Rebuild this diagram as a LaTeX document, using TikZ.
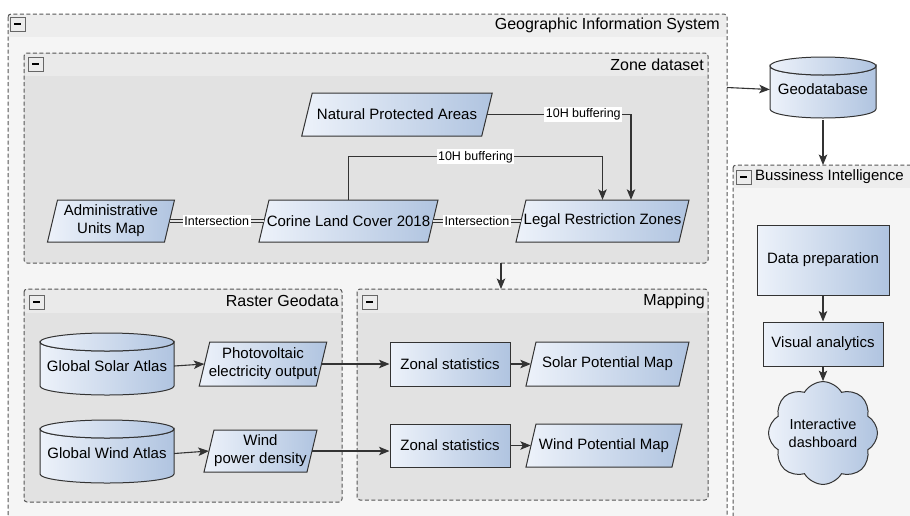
\documentclass[tikz,border=0pt]{standalone}
\usepackage{fontspec}
\setmainfont{Liberation Sans}
\usetikzlibrary{arrows.meta,shapes.symbols,calc}

\definecolor{gisHead}{HTML}{EDEDED}
\definecolor{gisBody}{HTML}{F5F5F5}
\definecolor{zHead}{HTML}{EAEAEA}
\definecolor{zBody}{HTML}{E2E2E2}
\definecolor{nodeL}{HTML}{EDF2FA}
\definecolor{nodeR}{HTML}{B0C4E0}
\definecolor{lineC}{HTML}{333333}
\definecolor{boxLine}{HTML}{555555}

\tikzset{
  nodefill/.style={left color=nodeL, right color=nodeR, draw=lineC, line width=1pt},
  lbl/.style={fill=white, inner sep=1.5pt, font=\fontsize{12.5}{14}\selectfont},
  arr/.style={draw=lineC, line width=1.1pt, -{Stealth[length=10.5pt,width=8.5pt,inset=2.5pt]}},
  dbl/.style={draw=lineC, double=zBody, double distance=2.2pt, line width=0.8pt},
  cont/.style={draw=boxLine, dash pattern=on 4pt off 2.5pt, line width=1pt, rounded corners=3pt},
  ttl/.style={font=\fontsize{16}{18}\selectfont, inner sep=0pt},
  rectbox/.style={nodefill, rectangle, inner sep=2pt, align=center},
  txt/.style={inner sep=0pt, align=center},
}

\newcommand\mkcont[7]{%
  \fill[#7, rounded corners=3pt] (#1,#2) rectangle (#3,#4);
  \fill[#6] (#1+1,#2+1) rectangle (#3-1,#5);
  \path[cont] (#1,#2) rectangle (#3,#4);}
\newcommand\mkminus[2]{%
  \draw[fill=white!85!gray, draw=gray!80!black, line width=0.8pt] (#1,#2) rectangle ++(15,14);
  \draw[line width=1.4pt] (#1+4,#2+7) -- (#1+11,#2+7);}
\newcommand\mkpara[7]{%
  \path[nodefill] (#2-#4/2-#6/2,#3+#5/2) -- (#2-#4/2+#6/2,#3-#5/2) -- (#2+#4/2+#6/2,#3-#5/2) -- (#2+#4/2-#6/2,#3+#5/2) -- cycle;
  \node[txt, minimum width=#4pt, minimum height=#5pt] (#1) at (#2,#3) {#7};}
\newcommand\mkcyl[7]{%
  \path[nodefill] (#2-#4/2,#3-#5/2+#6) -- (#2-#4/2,#3+#5/2-#6)
     arc[start angle=180, end angle=0, x radius=#4/2, y radius=#6]
     -- (#2+#4/2,#3-#5/2+#6)
     arc[start angle=0, end angle=180, x radius=#4/2, y radius=#6] -- cycle;
  \path[nodefill] (#2,#3-#5/2+#6) ellipse[x radius=#4/2, y radius=#6];
  \node[txt, minimum width=#4pt, minimum height=#5pt] (#1) at (#2,#3+2) {#7};}

\begin{document}
\begin{tikzpicture}[x=1pt, y=-1pt, every node/.style={font=\fontsize{15}{18}\selectfont}]
\useasboundingbox (0,0) rectangle (910,515);
\fill[white] (0,0) rectangle (910,515);

% containers
\mkcont{8}{14}{727}{535}{37}{gisHead}{gisBody}
\mkcont{733}{165}{930}{535}{188}{gisHead}{gisBody}
\mkcont{24}{53}{708}{263}{76}{zHead}{zBody}
\mkcont{24}{289}{342}{502}{313}{zHead}{zBody}
\mkcont{357}{289}{708}{500}{313}{zHead}{zBody}

\mkminus{10}{17}
\mkminus{28}{57}
\mkminus{29}{295}
\mkminus{362}{295}
\mkminus{736}{170}

\node[ttl, anchor=east] (gisT) at (720,25) {Geographic Information System};
\node[ttl, anchor=east] (zoneT) at (704,65) {Zone dataset};
\node[ttl, anchor=east] (rasT) at (339,301) {Raster Geodata};
\node[ttl, anchor=east] (mapT) at (705,301) {Mapping};
\node[ttl, anchor=west, font=\fontsize{15}{18}\selectfont] (biT) at (755,177) {Bussiness Intelligence};

% zone dataset nodes
\mkpara{npa}{397}{114.5}{180}{43}{10.5}{Natural Protected Areas}
\mkpara{lrz}{602.5}{221}{163}{42}{10}{Legal Restriction Zones}
\mkpara{cor}{348.5}{221}{169}{42}{10}{Corine Land Cover 2018}
\mkpara{adm}{111}{221}{117}{42}{10}{Administrative\\Units Map}

% raster
\mkcyl{gsa}{107}{364}{134}{62}{9}{Global Solar Atlas}
\mkcyl{gwa}{107}{451.5}{134}{63}{9}{Global Wind Atlas}
\mkpara{pv}{263}{364}{117}{44}{10.5}{Photovoltaic\\electricity output}
\mkpara{wpd}{260.5}{451}{103}{42}{10}{Wind\\power density}

% mapping
\node[rectbox, minimum width=120pt, minimum height=44pt] (zs1) at (450,364) {Zonal statistics};
\node[rectbox, minimum width=120pt, minimum height=43pt] (zs2) at (450,445.5) {Zonal statistics};
\mkpara{spm}{607.5}{364}{153}{44}{10}{Solar Potential Map}
\mkpara{wpm}{604}{445.5}{146}{43}{10}{Wind Potential Map}

% right side
\mkcyl{geo}{823}{87.5}{106}{61}{9}{Geodatabase}
\node[rectbox, minimum width=132pt, minimum height=70pt] (dp) at (823,260) {Data preparation};
\node[rectbox, minimum width=120pt, minimum height=44pt] (va) at (823,344) {Visual analytics};
\node[cloud, cloud puffs=8, cloud puff arc=120, aspect=1.1, nodefill, align=center,
      inner sep=0pt, minimum width=107pt, minimum height=98pt,
      font=\fontsize{14.5}{18}\selectfont] (dash) at (823,433) {Interactive\\dashboard};

% connectors
\draw[dbl] (adm.east) -- node[lbl]{Intersection} (cor.west);
\draw[dbl] (cor.east) -- node[lbl]{Intersection} (lrz.west);
\draw[arr] (cor.north) -- ++(0,-43) -| node[lbl, pos=0.25]{10H buffering} (lrz.north);
\draw[arr] (npa.east) -| node[lbl, pos=0.334]{10H buffering} ([xshift=28.5pt]lrz.north);

\draw[arr] (gsa.east) -- (pv.west);
\draw[arr] (pv.east) -- (zs1.west);
\draw[arr] (gwa.east) -- (wpd.west);
\draw[arr] (wpd.east) -- (wpd.east -| zs2.west);
\draw[arr] (zs1.east) -- (spm.west);
\draw[arr] (zs2.east) -- (wpm.west);

\coordinate (zoneS) at (501,263);
\coordinate (mapN) at (501,289);
\draw[arr] (zoneS) -- (mapN);
\coordinate (gisE) at (727,87.5);
\draw[arr] (gisE) -- (geo.west);
\coordinate (biN) at (823,165);
\draw[arr] (geo.south) -- (biN);
\draw[arr] (dp.south) -- (va.north);
\draw[arr] (va.south) -- (dash.north);
\end{tikzpicture}
\end{document}
